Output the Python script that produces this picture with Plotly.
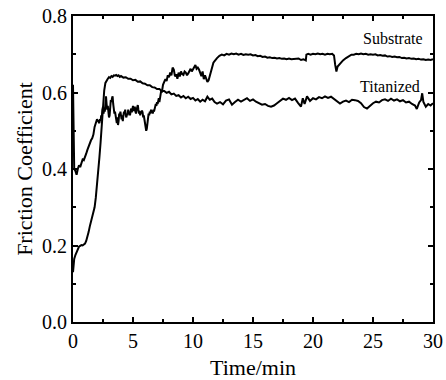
import plotly.graph_objects as go

# Substrate curve (time in min, friction coefficient)
sub_t = [0.0, 0.03, 0.06, 0.1, 0.2, 0.3, 0.4, 0.5, 0.6, 0.7, 0.8, 0.9, 1.0, 1.1, 1.2, 1.3, 1.4, 1.5, 1.6, 1.7,
         1.8, 1.9, 2.0, 2.1,
         2.20, 2.25, 2.30, 2.35, 2.40, 2.45, 2.50, 2.55, 2.60, 2.65, 2.70, 2.75, 2.80, 2.85, 2.90, 2.95,
         3.00, 3.05, 3.10, 3.15, 3.20, 3.25, 3.30, 3.35, 3.40, 3.45, 3.50, 3.55, 3.60, 3.65, 3.70, 3.75,
         3.80, 3.85, 3.90, 3.95, 4.00, 4.05, 4.10, 4.15, 4.20, 4.25, 4.30, 4.35, 4.40, 4.45, 4.50, 4.55,
         4.60, 4.65, 4.70, 4.75, 4.80, 4.85, 4.90, 4.95, 5.00, 5.05, 5.10, 5.15, 5.20, 5.25, 5.30, 5.35,
         5.40, 5.45, 5.50, 5.55, 5.60, 5.65, 5.70, 5.75, 5.80, 5.85, 5.90, 5.95, 6.00, 6.05, 6.10, 6.15,
         6.20, 6.25, 6.30, 6.35, 6.40, 6.45, 6.50, 6.55, 6.60, 6.65, 6.70, 6.75, 6.80, 6.85, 6.90, 6.95,
         7.00, 7.05, 7.10, 7.15, 7.20, 7.25, 7.30, 7.35, 7.40, 7.45, 7.50,
         7.6, 7.7, 7.8, 7.9, 8.0, 8.1, 8.2, 8.3, 8.4, 8.5, 8.6, 8.7, 8.8, 8.9, 9.0, 9.1, 9.2, 9.3, 9.4,
         9.5, 9.6, 9.7, 9.8, 9.9, 10.0, 10.1, 10.2, 10.3, 10.4, 10.5, 10.6, 10.7, 10.8, 10.9, 11.0, 11.1,
         11.2, 11.3, 11.4, 11.5, 11.6, 11.7, 11.8, 11.9, 12.0,
         12.2, 12.4, 12.6, 12.8, 13.0, 13.2, 13.4, 13.6, 13.8, 14.0, 14.2, 14.4, 14.6, 14.8, 15.0, 15.2,
         15.4, 15.6, 15.8, 16.0, 16.2, 16.4, 16.6, 16.8, 17.0, 17.2, 17.4, 17.6, 17.8, 18.0, 18.2, 18.4,
         18.6, 18.8, 19.0, 19.2, 19.4, 19.45, 19.6, 19.8, 20.0, 20.2, 20.4, 20.6, 20.8, 21.0, 21.2, 21.4,
         21.6, 21.75, 21.85, 21.95, 22.05, 22.25, 22.5, 22.75, 23.0, 23.2, 23.4, 23.6, 23.8, 24.0, 24.2,
         24.4, 24.6, 24.8, 25.0, 25.2, 25.4, 25.6, 25.8, 26.0, 26.2, 26.4, 26.6, 26.8, 27.0, 27.2, 27.4,
         27.6, 27.8, 28.0, 28.2, 28.4, 28.6, 28.8, 29.0, 29.2, 29.4, 29.6, 29.8, 30.0]
sub_v = [0.62, 0.55, 0.45, 0.40, 0.395, 0.385, 0.40, 0.41, 0.405, 0.415, 0.425, 0.423, 0.435, 0.44, 0.45,
         0.46, 0.465, 0.475, 0.48, 0.49, 0.51, 0.52, 0.53, 0.525,
         0.52, 0.53, 0.525, 0.54, 0.535, 0.555, 0.563, 0.545, 0.56, 0.55, 0.575, 0.59, 0.57, 0.555, 0.565,
         0.545, 0.535, 0.54, 0.56, 0.58, 0.575, 0.585, 0.59, 0.57, 0.56, 0.545, 0.55, 0.535, 0.53, 0.52,
         0.535, 0.515, 0.525, 0.545, 0.54, 0.55, 0.535, 0.53, 0.54, 0.525, 0.54, 0.55, 0.545, 0.555, 0.54,
         0.535, 0.545, 0.54, 0.555, 0.545, 0.55, 0.54, 0.55, 0.558, 0.548, 0.56, 0.565, 0.552, 0.56, 0.563,
         0.55, 0.545, 0.555, 0.56, 0.567, 0.555, 0.545, 0.552, 0.54, 0.55, 0.545, 0.553, 0.548, 0.535, 0.54,
         0.53, 0.52, 0.51, 0.50, 0.505, 0.52, 0.53, 0.545, 0.54, 0.55, 0.545, 0.555, 0.548, 0.552, 0.545,
         0.555, 0.55, 0.56, 0.565, 0.57, 0.565, 0.575, 0.57, 0.58, 0.585, 0.575, 0.59, 0.595, 0.605, 0.60,
         0.615, 0.62,
         0.628, 0.635, 0.63, 0.645, 0.64, 0.652, 0.645, 0.665, 0.66, 0.642, 0.648, 0.636, 0.652, 0.642,
         0.655, 0.648, 0.646, 0.655, 0.652, 0.645, 0.65, 0.657, 0.662, 0.655, 0.66, 0.668, 0.672, 0.662,
         0.665, 0.66, 0.652, 0.643, 0.655, 0.635, 0.645, 0.638, 0.628, 0.632, 0.645, 0.66, 0.672, 0.678,
         0.682, 0.688, 0.69,
         0.696, 0.699, 0.697, 0.701, 0.699, 0.702, 0.700, 0.702, 0.699, 0.701, 0.698, 0.700, 0.699, 0.700,
         0.697, 0.698, 0.695, 0.696, 0.693, 0.694, 0.691, 0.692, 0.690, 0.691, 0.689, 0.690, 0.688, 0.689,
         0.687, 0.689, 0.687, 0.688, 0.688, 0.689, 0.685, 0.687, 0.684, 0.699, 0.701, 0.699, 0.701, 0.700,
         0.702, 0.700, 0.701, 0.699, 0.701, 0.700, 0.701, 0.697, 0.672, 0.655, 0.668, 0.676, 0.684, 0.690,
         0.696, 0.699, 0.699, 0.701, 0.700, 0.702, 0.700, 0.701, 0.699, 0.700, 0.699, 0.700, 0.697, 0.698,
         0.696, 0.697, 0.694, 0.695, 0.693, 0.694, 0.692, 0.693, 0.690, 0.691, 0.689, 0.690, 0.688, 0.689,
         0.687, 0.688, 0.686, 0.687, 0.685, 0.686, 0.685, 0.687]

# Titanized curve
tit_t = [0.0, 0.03, 0.1, 0.2, 0.3, 0.4, 0.5, 0.6, 0.7, 0.8, 0.9, 1.0, 1.1, 1.2, 1.3, 1.4, 1.5, 1.6, 1.7, 1.8,
         1.9, 2.0, 2.1, 2.2, 2.3, 2.4, 2.5, 2.6, 2.7, 2.8, 2.9, 3.0, 3.1, 3.2, 3.3, 3.4, 3.5, 3.6, 3.7, 3.8,
         3.9, 4.0, 4.2, 4.4, 4.6, 4.8, 5.0, 5.2, 5.4, 5.6, 5.8, 6.0, 6.2, 6.4, 6.6, 6.8, 7.0, 7.2, 7.4,
         7.6, 7.8, 8.0, 8.2, 8.4, 8.6, 8.8, 9.0, 9.2, 9.4, 9.6, 9.8, 10.0, 10.2, 10.4, 10.6, 10.8, 11.0,
         11.2, 11.4, 11.6, 11.8, 12.0, 12.25, 12.5, 12.75, 13.0, 13.25, 13.5, 13.75, 14.0, 14.25, 14.5,
         14.75, 15.0, 15.25, 15.5, 15.75, 16.0, 16.25, 16.5, 16.75, 17.0, 17.25, 17.5, 17.75, 18.0, 18.25,
         18.5, 18.75, 19.0, 19.15, 19.3, 19.5, 19.75, 20.0, 20.25, 20.5, 20.75, 21.0, 21.25, 21.5, 21.75,
         22.0, 22.25, 22.5, 22.75, 23.0, 23.25, 23.5, 23.75, 24.0, 24.25, 24.5, 24.75, 25.0, 25.25, 25.5,
         25.75, 26.0, 26.25, 26.5, 26.75, 27.0, 27.25, 27.5, 27.75, 28.0, 28.25, 28.5, 28.65, 28.85, 29.0,
         29.1, 29.2, 29.4, 29.6, 29.8, 30.0]
tit_v = [0.13, 0.155, 0.165, 0.175, 0.183, 0.19, 0.197, 0.199, 0.201, 0.200, 0.203, 0.205, 0.212, 0.222,
         0.235, 0.250, 0.262, 0.272, 0.285, 0.300, 0.325, 0.355, 0.390, 0.430, 0.470, 0.520, 0.565, 0.605,
         0.625, 0.632, 0.636, 0.640, 0.638, 0.643, 0.641, 0.645, 0.644, 0.646, 0.643, 0.645, 0.641, 0.643,
         0.639, 0.640, 0.636, 0.636, 0.632, 0.633, 0.628, 0.629, 0.624, 0.623, 0.619, 0.619, 0.614, 0.613,
         0.609, 0.609, 0.604, 0.604, 0.599, 0.602, 0.595, 0.597, 0.591, 0.593, 0.587, 0.591, 0.585, 0.589,
         0.583, 0.586, 0.579, 0.583, 0.576, 0.581, 0.577, 0.589, 0.581, 0.584, 0.575, 0.571, 0.575, 0.569,
         0.579, 0.582, 0.568, 0.575, 0.581, 0.576, 0.580, 0.585, 0.578, 0.582, 0.576, 0.572, 0.568, 0.570,
         0.565, 0.563, 0.566, 0.572, 0.578, 0.584, 0.581, 0.586, 0.580, 0.584, 0.573, 0.563, 0.585, 0.570,
         0.590, 0.578, 0.585, 0.582, 0.588, 0.585, 0.590, 0.586, 0.589, 0.583, 0.576, 0.571, 0.576, 0.579,
         0.575, 0.581, 0.580, 0.578, 0.572, 0.562, 0.558, 0.566, 0.572, 0.576, 0.574, 0.580, 0.582, 0.578,
         0.584, 0.579, 0.582, 0.577, 0.580, 0.574, 0.576, 0.570, 0.566, 0.557, 0.574, 0.580, 0.598, 0.575,
         0.563, 0.570, 0.566, 0.572]

x_ticks = [0, 5, 10, 15, 20, 25, 30]
y_ticks = [0.0, 0.2, 0.4, 0.6, 0.8]
labels = ["Substrate", "Titanized"]
label_pos = [(29.3, 0.742), (29.1, 0.617)]

FONT = "Liberation Serif, Times New Roman, serif"

fig = go.Figure()
fig.add_trace(go.Scatter(x=sub_t, y=sub_v, mode="lines", name=labels[0],
                         line=dict(color="black", width=2)))
fig.add_trace(go.Scatter(x=tit_t, y=tit_v, mode="lines", name=labels[1],
                         line=dict(color="black", width=2)))

for txt, (xx, yy) in zip(labels, label_pos):
    fig.add_annotation(x=xx, y=yy, text=txt, showarrow=False, xanchor="right", yanchor="middle",
                       font=dict(family=FONT, size=16, color="black"))

axis_common = dict(showline=True, linecolor="black", linewidth=2, mirror="allticks",
                   ticks="inside", ticklen=5, tickwidth=1.5, tickcolor="black",
                   showgrid=False, zeroline=False, automargin=False, ticklabeloverflow="allow",
                   tickfont=dict(family=FONT, size=20, color="black"))

fig.update_xaxes(range=[0, 30], tickvals=x_ticks, ticktext=[str(v) for v in x_ticks],
                 minor=dict(ticks="inside", ticklen=3, tickwidth=1.5, tickcolor="black", dtick=2.5, tick0=0),
                 title=dict(text="Time/min", font=dict(family=FONT, size=22, color="black"), standoff=10),
                 **axis_common)
fig.update_yaxes(range=[0, 0.8], tickvals=y_ticks, ticktext=[f"{v:.1f}" for v in y_ticks],
                 minor=dict(ticks="inside", ticklen=3, tickwidth=1.5, tickcolor="black", dtick=0.1, tick0=0),
                 title=dict(text="Friction Coefficient", font=dict(family=FONT, size=22, color="black"),
                            standoff=3),
                 **axis_common)

fig.update_layout(width=446, height=380, margin=dict(l=73, r=13, t=16, b=58),
                  paper_bgcolor="white", plot_bgcolor="white", showlegend=False)

# remove the default 8px page margin so the figure fills the window exactly; hide the modebar
fig.write_html("out.html", config={"displayModeBar": False},
               post_script="document.body.style.margin='0';")
